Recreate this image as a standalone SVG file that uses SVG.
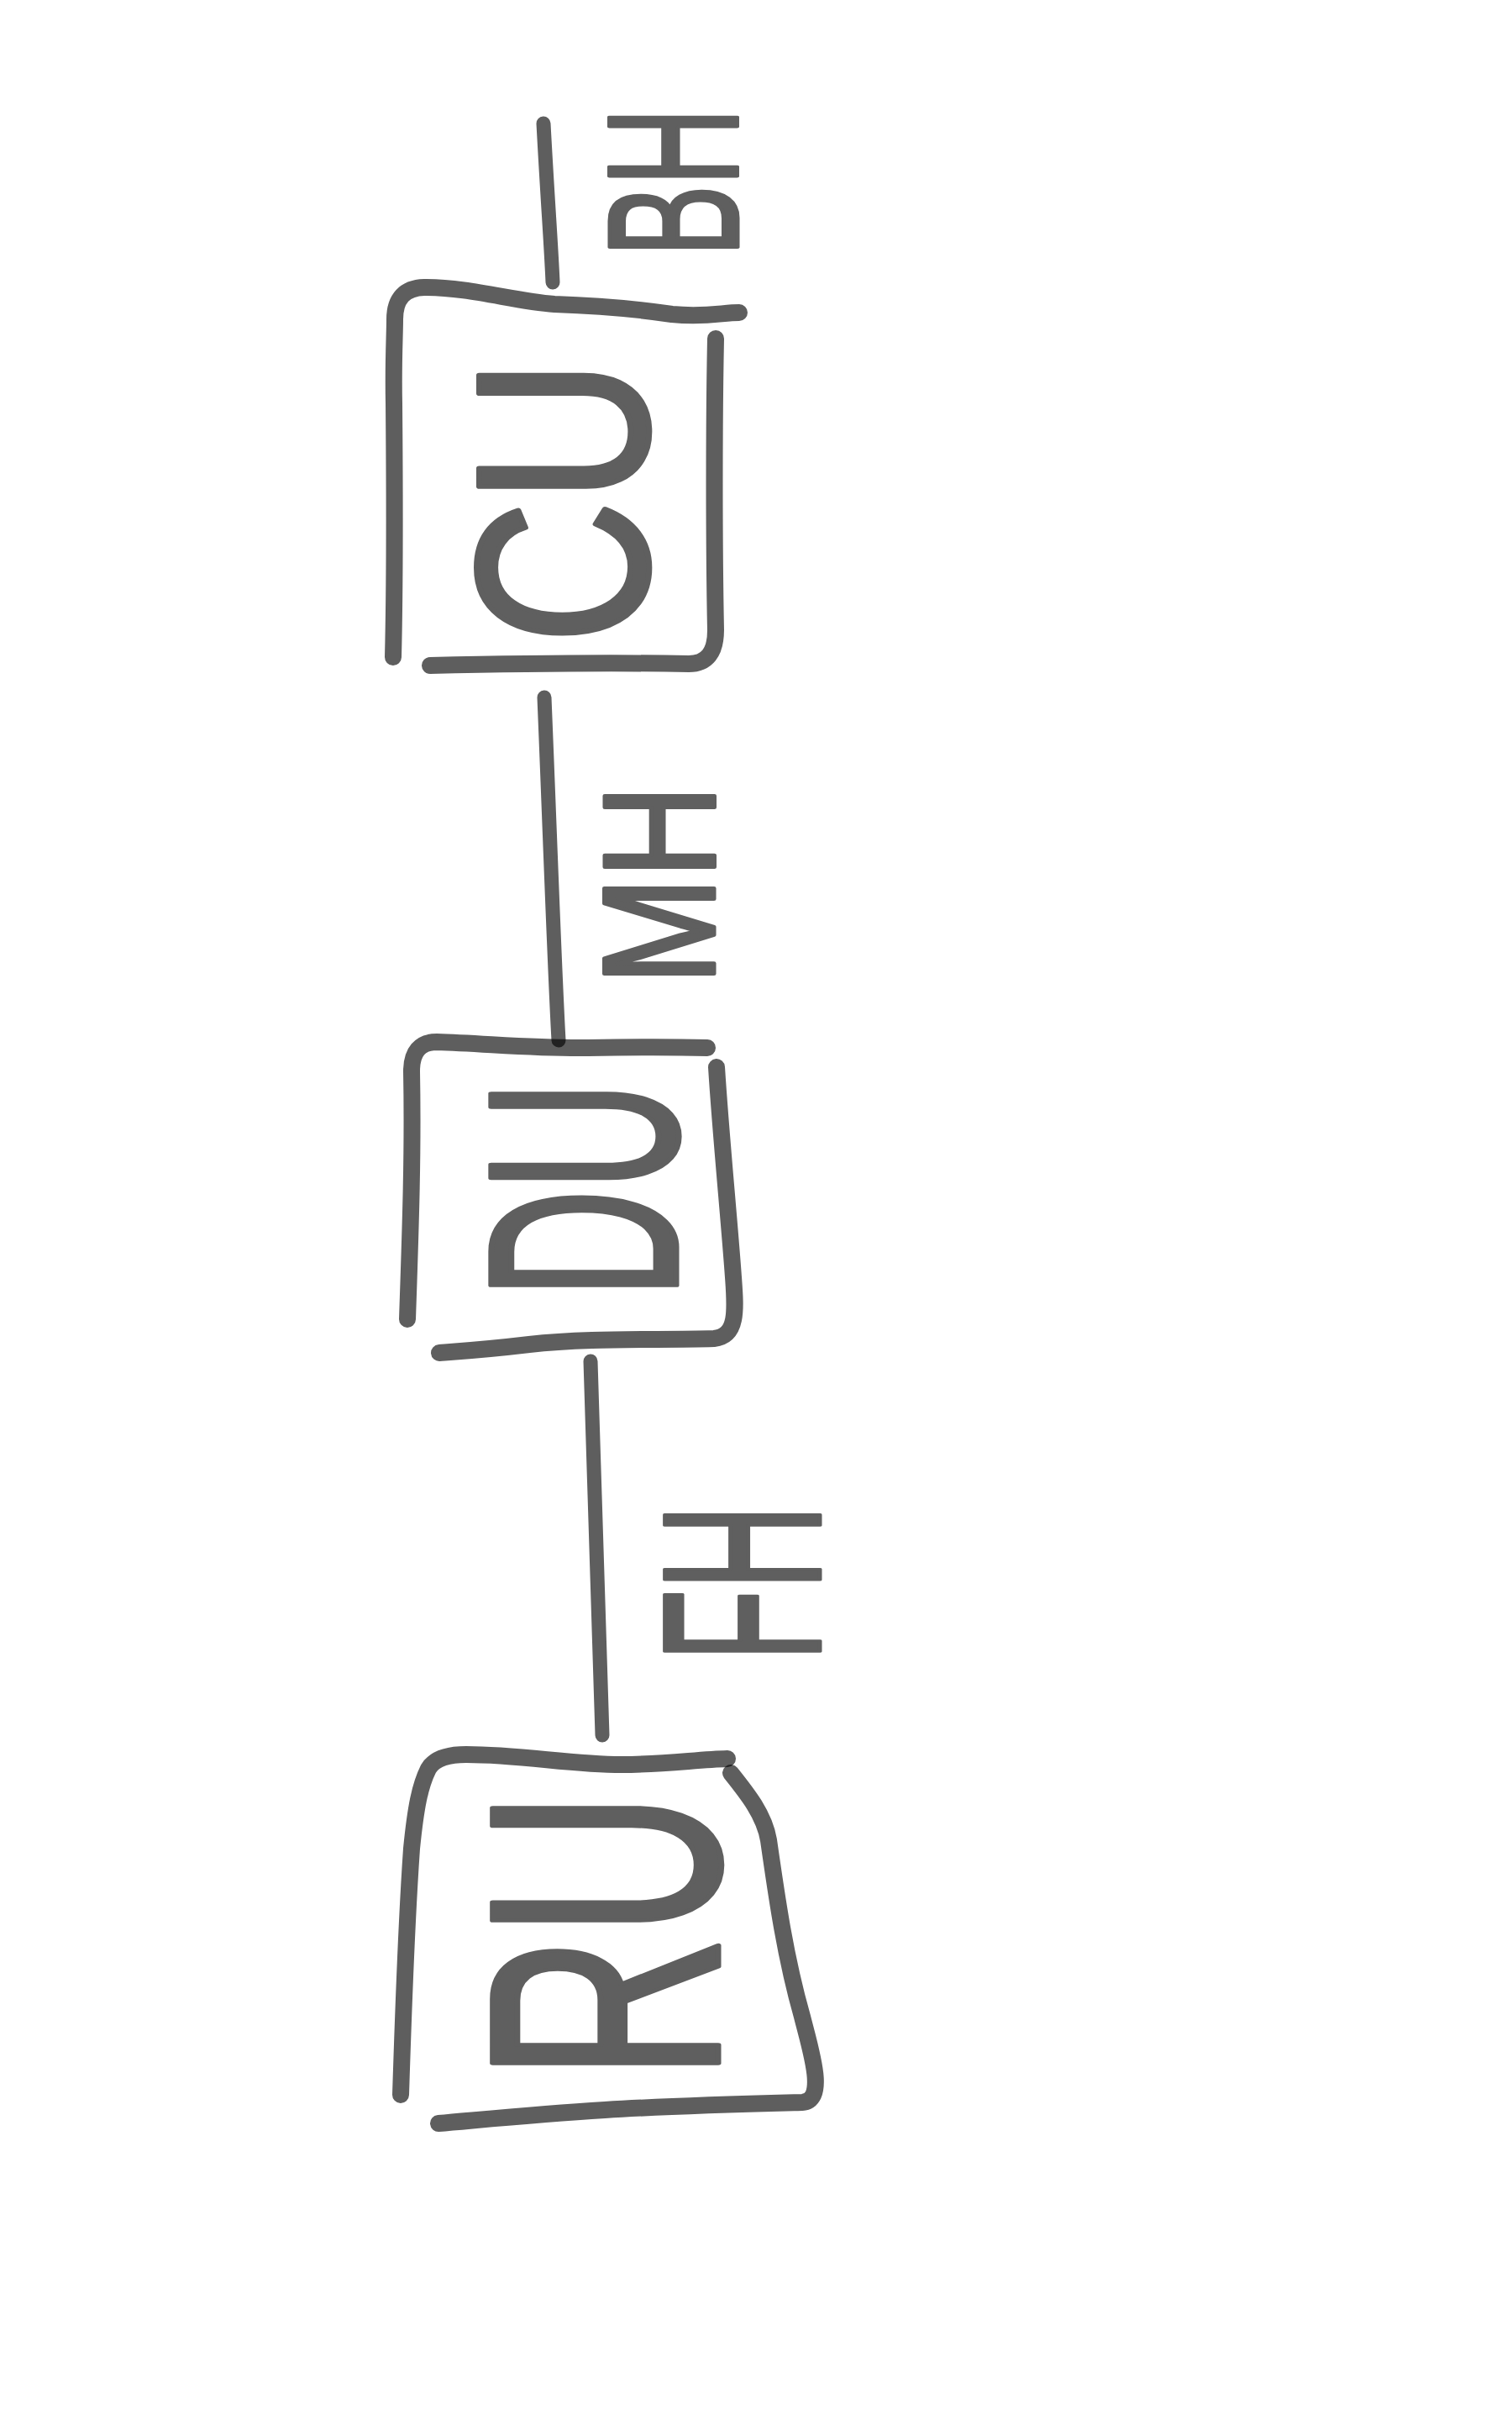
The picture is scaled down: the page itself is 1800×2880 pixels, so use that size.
<svg xmlns="http://www.w3.org/2000/svg" width="1800" height="2880" viewBox="0 0 1800 2880">
<style>
.stroke{fill:none;stroke:#000;stroke-opacity:0.63;stroke-linecap:round;stroke-linejoin:round}
.box{stroke-width:20}
.conn{stroke-width:17}
.lbl{font-family:"Liberation Sans",Arial,sans-serif;fill:#5f5f5f;stroke:#5f5f5f;stroke-linejoin:round;text-anchor:middle}
.big{stroke-width:7}
.small{stroke-width:5}
</style>
<rect width="1800" height="2880" fill="#fff"/>
<g id="connectors">
<path class="stroke conn" d="M647,147 C652,240 656,290 658,336"/>
<path class="stroke conn" d="M648,830 C655,1000 660,1150 665,1238"/>
<path class="stroke conn" d="M703,1620 C708,1800 713,1950 717,2065"/>
</g>
<g id="label-bh">
<text class="lbl small" font-size="220" transform="translate(800,217) rotate(-90)" x="0" y="78" textLength="176" lengthAdjust="spacingAndGlyphs">BH</text>
</g>
<g id="node-cu">
<path class="stroke box" d="M468,782 C470,700 470,600 469,480 C468,430 470,400 470,380 Q470,343 505,342 C560,342 610,358 660,362 C720,364 760,368 800,374 C840,378 860,372 880,372"/>
<path class="stroke box" d="M852,403 C850,500 850,650 852,750 Q852,790 820,790 C700,788 600,790 512,792"/>
<text class="lbl big" font-size="290" transform="translate(666,597) rotate(-90)" x="0" y="104" textLength="337" lengthAdjust="spacingAndGlyphs">CU</text>
</g>
<g id="label-mh">
<text class="lbl small" font-size="190" transform="translate(782,1053) rotate(-90)" x="0" y="68" textLength="237" lengthAdjust="spacingAndGlyphs">MH</text>
</g>
<g id="node-du">
<path class="stroke box" d="M485,1570 C488,1480 492,1380 490,1275 Q490,1240 520,1240 C580,1242 640,1248 700,1247 C760,1246 800,1246 842,1247"/>
<path class="stroke box" d="M853,1270 C858,1350 868,1450 873,1520 C876,1560 878,1590 850,1593 C780,1595 700,1592 630,1600 C580,1606 550,1608 523,1610"/>
<text class="lbl big" font-size="320" transform="translate(690,1416) rotate(-90)" x="0" y="115" textLength="257" lengthAdjust="spacingAndGlyphs">DU</text>
</g>
<g id="label-fh">
<text class="lbl small" font-size="268" transform="translate(880,1884) rotate(-90)" x="0" y="96" textLength="186" lengthAdjust="spacingAndGlyphs">FH</text>
</g>
<g id="node-ru">
<path class="stroke box" d="M477,2493 C480,2400 483,2300 490,2200 C495,2150 500,2125 510,2105 Q520,2088 555,2088 C620,2088 680,2100 740,2100 C790,2100 830,2094 866,2093"/>
<path class="stroke box" d="M870,2110 C890,2135 910,2160 915,2190 C925,2260 935,2330 955,2400 C965,2440 985,2500 955,2502 C880,2504 800,2506 720,2511 C640,2516 580,2522 522,2527"/>
<text class="lbl big" font-size="390" transform="translate(715,2304) rotate(-90)" x="0" y="140" textLength="342" lengthAdjust="spacingAndGlyphs">RU</text>
</g>
</svg>
